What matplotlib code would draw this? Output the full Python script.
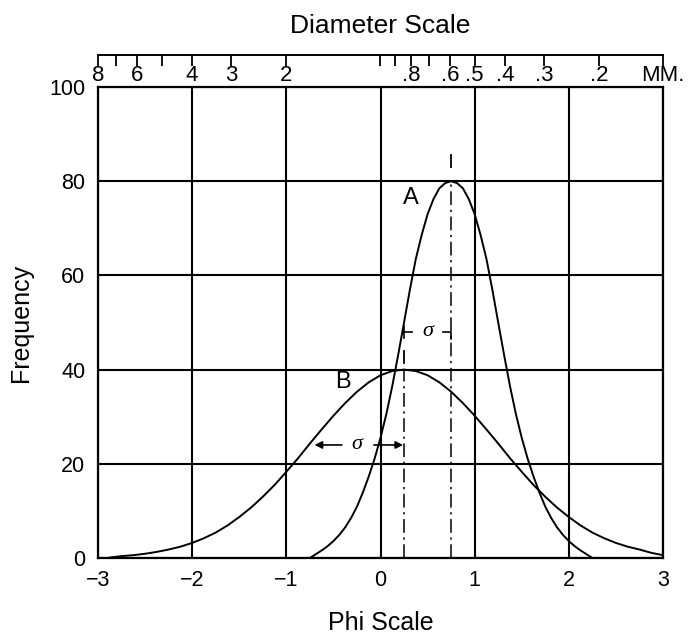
import numpy as np
import matplotlib
matplotlib.use("Agg")
import matplotlib.pyplot as plt
from matplotlib.ticker import NullLocator

plt.rcParams['font.family'] = ['Liberation Sans', 'DejaVu Sans']

# ---- data ---------------------------------------------------------------
# Curve A (narrow, well sorted): phi positions and frequencies
A_PHI = [-0.75, -0.6875, -0.625, -0.5625, -0.5, -0.4375, -0.375, -0.3125,
         -0.25, -0.1875, -0.125, -0.0625, 0.0, 0.0625, 0.125, 0.1875,
         0.25, 0.3125, 0.375, 0.4375, 0.5, 0.5625, 0.625, 0.6875,
         0.75, 0.8125, 0.875, 0.9375, 1.0, 1.0625, 1.125, 1.1875,
         1.25, 1.3125, 1.375, 1.4375, 1.5, 1.5625, 1.625, 1.6875,
         1.75, 1.8125, 1.875, 1.9375, 2.0, 2.0625, 2.125, 2.1875, 2.25]
A_FREQ = [0.0, 0.8, 1.6, 2.5, 3.6, 4.9, 6.5, 8.5,
          10.9, 13.9, 17.3, 21.1, 25.5, 30.6, 36.5, 43.1,
          50.0, 57.0, 63.5, 68.6, 73.0, 76.2, 78.5, 79.6,
          80.0, 79.6, 78.5, 76.2, 73.0, 68.6, 63.5, 57.0,
          50.0, 43.1, 36.5, 30.6, 25.5, 21.1, 17.3, 13.9,
          10.9, 8.5, 6.5, 4.9, 3.6, 2.5, 1.6, 0.8, 0.0]

# Curve B (broad, poorly sorted)
B_PHI = [-2.875, -2.75, -2.625, -2.5, -2.375, -2.25, -2.125, -2.0, -1.875, -1.75,
         -1.625, -1.5, -1.375, -1.25, -1.125, -1.0, -0.875, -0.75, -0.625, -0.5,
         -0.375, -0.25, -0.125, 0.0, 0.125, 0.25, 0.375, 0.5, 0.625, 0.75,
         0.875, 1.0, 1.125, 1.25, 1.375, 1.5, 1.625, 1.75, 1.875, 2.0,
         2.125, 2.25, 2.375, 2.5, 2.625, 2.75, 2.875, 3.0]
B_FREQ = [0.1, 0.4, 0.6, 0.9, 1.3, 1.8, 2.4, 3.2, 4.2, 5.4,
          6.9, 8.7, 10.7, 13.0, 15.5, 18.3, 21.2, 24.3, 27.3, 30.2,
          32.9, 35.3, 37.3, 38.8, 39.7, 40.0, 39.7, 38.8, 37.3, 35.3,
          32.9, 30.2, 27.3, 24.3, 21.2, 18.3, 15.5, 13.0, 10.7, 8.7,
          6.9, 5.4, 4.2, 3.2, 2.4, 1.8, 1.1, 0.6]

# standard deviations marked on the chart (phi units)
SIGMA_A = 0.5
SIGMA_B = 1.0
SIGMA_A_Y = 48.0   # height of the sigma bracket of curve A
SIGMA_B_Y = 24.0   # height of the sigma arrows of curve B

X_TICKS = [-3, -2, -1, 0, 1, 2, 3]
Y_TICKS = [0, 20, 40, 60, 80, 100]

# diameter scale (mm) on top
DIAM_MM = [8, 7, 6, 5, 4, 3, 2, 1, 0.9, 0.8, 0.7, 0.6, 0.5, 0.4, 0.3, 0.2, 0.125]
DIAM_LABELS = ['8', '', '6', '', '4', '3', '2', '', '', '.8', '', '.6', '.5',
               '.4', '.3', '.2', 'MM.']

# ---- figure ---------------------------------------------------------------
W, H = 691, 637
fig = plt.figure(figsize=(W / 100, H / 100), dpi=100)
ax = fig.add_axes([98 / W, 1 - 558 / H, 565 / W, 471 / H])
ax.set_xlim(-3, 3)
ax.set_ylim(0, 100)
ax.set_xticks(X_TICKS)
ax.set_yticks(Y_TICKS)
ax.grid(True, color='black', lw=1.5)
for s in ax.spines.values():
    s.set_linewidth(1.6)
ax.tick_params(length=0, labelsize=15.5, pad=9)
ax.set_xlabel('Phi Scale', fontsize=18, labelpad=14)
ax.set_ylabel('Frequency', fontsize=18, labelpad=12)

# curves
ax.plot(A_PHI, A_FREQ, color='black', lw=1.4, zorder=3)
ax.plot(B_PHI, B_FREQ, color='black', lw=1.4, zorder=3)

dashdot = (0, (9, 3, 1.5, 3))
a_peak = max(A_FREQ)
a_mean = A_PHI[A_FREQ.index(a_peak)]
b_peak = max(B_FREQ)
b_mean = B_PHI[B_FREQ.index(b_peak)]

ax.plot([a_mean, a_mean], [0, a_peak], color='black', lw=1.1, ls=dashdot, zorder=3)
ax.plot([b_mean, b_mean], [0, b_peak], color='black', lw=1.1, ls=dashdot, zorder=3)
ax.plot([a_mean, a_mean], [a_peak + 3, a_peak + 5.5], color='black', lw=1.3)
ax.plot([b_mean, b_mean], [b_peak + 1.5, b_peak + 4], color='black', lw=1.3)

# labels A and B
ax.text(0.32, 76.5, 'A', fontsize=17, ha='center', va='center')
ax.text(-0.40, 37.3, 'B', fontsize=17, ha='center', va='center')

# sigma bracket for A
left = a_mean - SIGMA_A
ax.plot([left, left], [SIGMA_A_Y - 1.2, SIGMA_A_Y + 1.2], color='black', lw=1.2)
ax.plot([left, left + 0.08], [SIGMA_A_Y, SIGMA_A_Y], color='black', lw=1.2)
ax.plot([a_mean - 0.09, a_mean, a_mean], [SIGMA_A_Y, SIGMA_A_Y, SIGMA_A_Y - 1.6],
        color='black', lw=1.2)
ax.text(a_mean - SIGMA_A / 2, SIGMA_A_Y, 'σ', fontsize=16, style='italic',
        family=['Liberation Serif', 'DejaVu Serif'], ha='center', va='center',
        bbox=dict(fc='white', ec='none', pad=1))

# sigma arrows for B
sx = b_mean - SIGMA_B / 2
ax.annotate('', xy=(b_mean - SIGMA_B + 0.05, SIGMA_B_Y), xytext=(sx - 0.16, SIGMA_B_Y),
            arrowprops=dict(arrowstyle='-|>', color='black', lw=1.2, mutation_scale=11,
                            shrinkA=0, shrinkB=0))
ax.annotate('', xy=(b_mean - 0.01, SIGMA_B_Y), xytext=(sx + 0.18, SIGMA_B_Y),
            arrowprops=dict(arrowstyle='-|>', color='black', lw=1.2, mutation_scale=11,
                            shrinkA=0, shrinkB=0))
ax.text(sx, SIGMA_B_Y, 'σ', fontsize=16, style='italic',
        family=['Liberation Serif', 'DejaVu Serif'], ha='center', va='center')

# top diameter scale
secax = ax.secondary_xaxis(1.068, functions=(lambda p: 2.0 ** (-np.asarray(p, float)),
                                              lambda d: -np.log2(np.clip(np.asarray(d, float), 1e-9, None))))
secax.set_xticks(DIAM_MM, labels=DIAM_LABELS)
secax.xaxis.set_minor_locator(NullLocator())
secax.tick_params(direction='in', length=8, width=1.3, pad=-22, labelsize=16)
for s in secax.spines.values():
    s.set_linewidth(1.4)
ax.text(0.5, 1.13, 'Diameter Scale', transform=ax.transAxes, ha='center',
        va='center', fontsize=19)

fig.savefig('out.png', dpi=100)
